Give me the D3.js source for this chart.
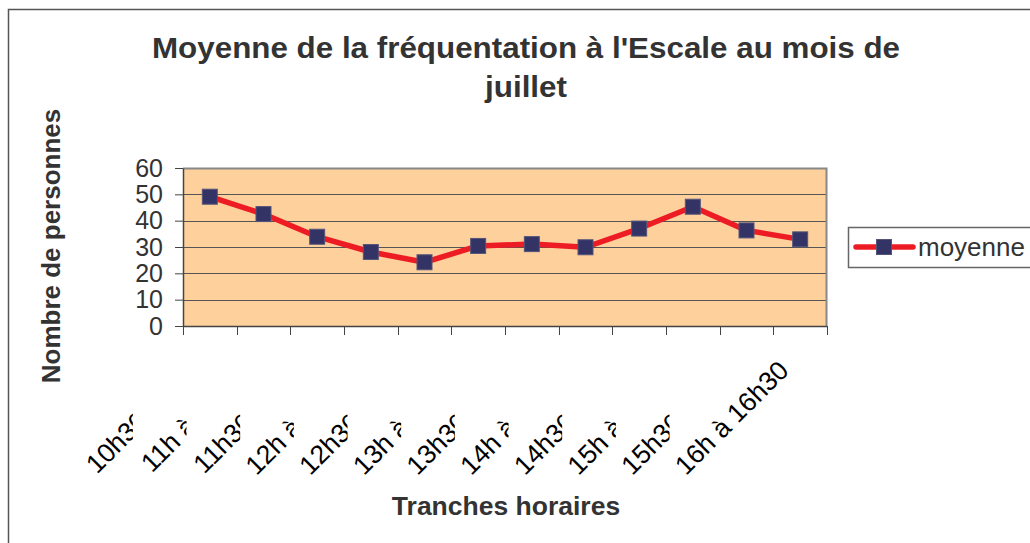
<!DOCTYPE html>
<html>
<head>
<meta charset="utf-8">
<script src="https://cdn.jsdelivr.net/npm/d3@7/dist/d3.min.js"></script>
<style>
  html, body { margin: 0; padding: 0; background: #fff; }
  svg { display: block; font-family: "Liberation Sans", Arial, Helvetica, sans-serif; }
</style>
</head>
<body>
<svg id="chart" width="1030" height="543"></svg>
<script>
const categories = [
  "10h30 à 11h", "11h à 11h30", "11h30 à 12h", "12h à 12h30",
  "12h30 à 13h", "13h à 13h30", "13h30 à 14h", "14h à 14h30",
  "14h30 à 15h", "15h à 15h30", "15h30 à 16h", "16h à 16h30"
];
const moyenne = [49.1, 42.5, 33.9, 28.1, 24.2, 30.4, 31.1, 29.9, 37.0, 45.3, 36.3, 32.9];
const yTicks = [0, 10, 20, 30, 40, 50, 60];
const titleLines = ["Moyenne de la fréquentation à l'Escale au mois de", "juillet"];
const yTitle = "Nombre de personnes";
const xTitle = "Tranches horaires";
const seriesName = "moyenne";

const svg = d3.select("#chart");
const plot = { left: 183, right: 827, top: 168, bottom: 326 };
const textColor = "#333333";
const lineColor = "#ED1C24";
const markerColor = "#333366";

// outer frame
svg.append("rect").attr("x", 8.5).attr("y", 9.5).attr("width", 1040).attr("height", 560)
  .attr("fill", "#fff").attr("stroke", "#555").attr("stroke-width", 1.5);

const x = d3.scaleBand().domain(categories).range([plot.left, plot.right]);
const y = d3.scaleLinear().domain([0, 60]).range([plot.bottom, plot.top]);

// plot area
svg.append("rect").attr("x", plot.left).attr("y", plot.top)
  .attr("width", plot.right - plot.left).attr("height", plot.bottom - plot.top)
  .attr("fill", "#FDD09C");

// gridlines
svg.append("g").selectAll("line").data(yTicks.filter(t => t > 0 && t < 60)).join("line")
  .attr("x1", plot.left).attr("x2", plot.right)
  .attr("y1", d => Math.round(y(d)) + 0.5).attr("y2", d => Math.round(y(d)) + 0.5)
  .attr("stroke", "#555").attr("stroke-width", 1);

// top and right border
svg.append("path")
  .attr("d", `M${plot.left},${plot.top + 0.5}H${plot.right - 0.5}V${plot.bottom}`)
  .attr("fill", "none").attr("stroke", "#888").attr("stroke-width", 2);

// y axis
const yAxis = svg.append("g").attr("transform", `translate(${plot.left},0)`)
  .call(d3.axisLeft(y).tickValues(yTicks).tickSize(8).tickPadding(12).tickSizeOuter(0));
yAxis.select(".domain").attr("stroke", "#444").attr("stroke-width", 1.5);
yAxis.selectAll(".tick line").attr("stroke", "#444");
yAxis.selectAll(".tick text").attr("font-size", 25).attr("fill", textColor)
  .attr("font-family", "Liberation Sans, Arial, sans-serif");

// x axis baseline and ticks at category boundaries
const bounds = categories.map(c => x(c)).concat([plot.right]);
svg.append("line").attr("x1", plot.left).attr("x2", plot.right)
  .attr("y1", plot.bottom + 0.5).attr("y2", plot.bottom + 0.5).attr("stroke", "#444").attr("stroke-width", 1.5);
svg.append("g").selectAll("line").data(bounds).join("line")
  .attr("x1", d => Math.round(d) + 0.5).attr("x2", d => Math.round(d) + 0.5)
  .attr("y1", plot.bottom).attr("y2", plot.bottom + 9).attr("stroke", "#444");

// x tick labels (rotated, clipped like the original)
const defs = svg.append("defs");
categories.forEach((c, i) => {
  const cx = x(c) + x.bandwidth() / 2;
  const last = i === categories.length - 1;
  defs.append("clipPath").attr("id", "clip" + i).append("rect")
    .attr("x", cx - 220).attr("y", 330).attr("width", last ? 260 : 143).attr("height", 200);
});
const lab = svg.append("g").selectAll("g").data(categories).join("g")
  .attr("clip-path", (d, i) => `url(#clip${i})`);
lab.append("text")
  .attr("transform", d => `translate(${x(d) + x.bandwidth() / 2 - 10},372) rotate(-45)`)
  .attr("text-anchor", "end").attr("font-size", 26.5).attr("fill", "#000")
  .text(d => d);

// line
const line = d3.line().x((d, i) => x(categories[i]) + x.bandwidth() / 2).y(d => y(d));
svg.append("path").datum(moyenne).attr("d", line)
  .attr("fill", "none").attr("stroke", lineColor).attr("stroke-width", 5.5).attr("stroke-linejoin", "round");

// markers
const ms = 15;
svg.append("g").selectAll("rect").data(moyenne).join("rect")
  .attr("x", (d, i) => x(categories[i]) + x.bandwidth() / 2 - ms / 2)
  .attr("y", d => y(d) - ms / 2)
  .attr("width", ms).attr("height", ms)
  .attr("fill", markerColor).attr("stroke", "#55557a").attr("stroke-width", 1);

// title
const titleWidths = [748, 82];
svg.append("g").selectAll("text").data(titleLines).join("text")
  .attr("x", 526).attr("y", (d, i) => 58 + i * 39)
  .attr("text-anchor", "middle").attr("font-size", 30).attr("font-weight", "bold")
  .attr("textLength", (d, i) => titleWidths[i]).attr("lengthAdjust", "spacingAndGlyphs")
  .attr("fill", textColor).text(d => d);

// axis titles
svg.append("text").attr("transform", "translate(60,246) rotate(-90)")
  .attr("text-anchor", "middle").attr("font-size", 26).attr("font-weight", "bold")
  .attr("fill", textColor).text(yTitle);
svg.append("text").attr("x", 506).attr("y", 515)
  .attr("text-anchor", "middle").attr("font-size", 26.5).attr("font-weight", "bold")
  .attr("fill", textColor).text(xTitle);

// legend
const lg = svg.append("g");
lg.append("rect").attr("x", 848.5).attr("y", 227.5).attr("width", 200).attr("height", 40)
  .attr("fill", "#fff").attr("stroke", "#666").attr("stroke-width", 1.5);
lg.append("line").attr("x1", 856).attr("x2", 913).attr("y1", 247).attr("y2", 247)
  .attr("stroke", lineColor).attr("stroke-width", 5.5).attr("stroke-linecap", "round");
lg.append("rect").attr("x", 884 - ms / 2).attr("y", 247 - ms / 2).attr("width", ms).attr("height", ms)
  .attr("fill", markerColor).attr("stroke", "#55557a");
lg.append("text").attr("x", 918).attr("y", 256).attr("font-size", 26).attr("fill", textColor).text(seriesName);
</script>
</body>
</html>
